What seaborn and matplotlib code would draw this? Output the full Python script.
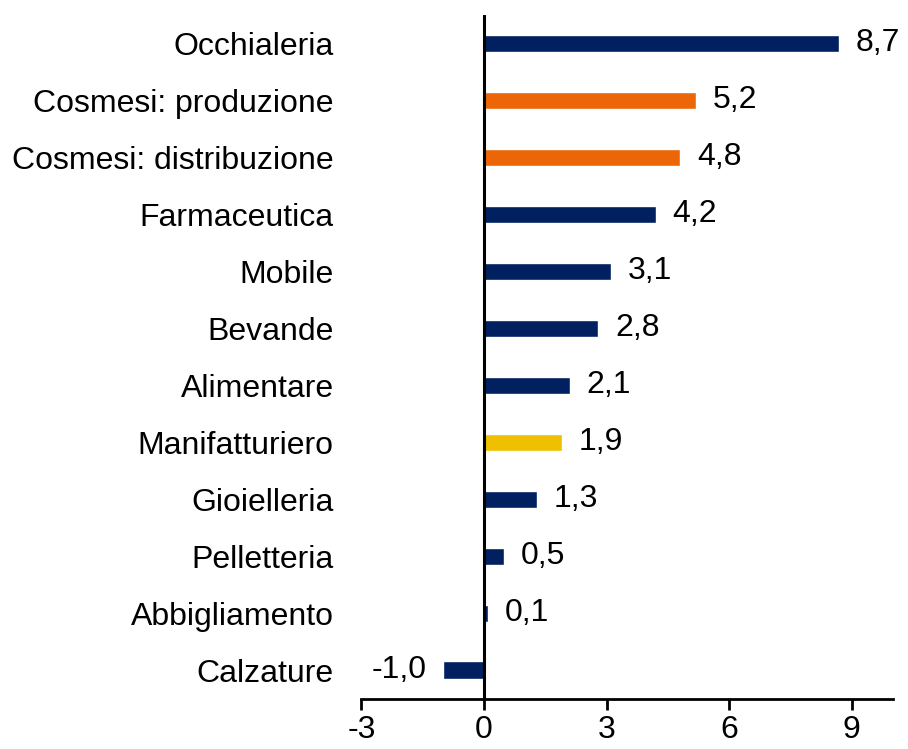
import matplotlib
matplotlib.use("Agg")
import matplotlib.pyplot as plt
import seaborn as sns
import pandas as pd

# ===================== DATA =====================
categories = ["Occhialeria", "Cosmesi: produzione", "Cosmesi: distribuzione",
              "Farmaceutica", "Mobile", "Bevande", "Alimentare", "Manifatturiero",
              "Gioielleria", "Pelletteria", "Abbigliamento", "Calzature"]
values = [8.7, 5.2, 4.8, 4.2, 3.1, 2.8, 2.1, 1.9, 1.3, 0.5, 0.1, -1.0]
groups = ["altro", "cosmesi", "cosmesi", "altro", "altro", "altro", "altro",
          "manifattura", "altro", "altro", "altro", "altro"]
group_colors = {"altro": "#002060", "cosmesi": "#EC6608", "manifattura": "#EEC000"}
xticks = [-3, 0, 3, 6, 9]

df = pd.DataFrame({"settore": categories, "valore": values, "gruppo": groups})
bar_colors = [group_colors[g] for g in groups]

# ===================== PLOT =====================
sns.set_style("white")
plt.rcParams['font.family'] = ['Liberation Sans', 'DejaVu Sans']
plt.rcParams['text.color'] = 'black'
FS = 23

fig = plt.figure(figsize=(9.08, 7.49), dpi=100)
ax = fig.add_axes([0.398, 0.067, 0.585, 0.913])

sns.barplot(data=df, x="valore", y="settore", hue="settore",
            palette=bar_colors, legend=False, width=0.31, saturation=1, ax=ax)

for cont in ax.containers:
    ax.bar_label(cont, labels=[f"{v:.1f}".replace(".", ",") for v in cont.datavalues],
                 padding=12, fontsize=FS, color="black")

ax.axvline(0, color="black", lw=2.2)
ax.set_xlim(-3, 10)
ax.set_ylim(11.5, -0.5)
ax.set_xticks(xticks)
ax.set_xticklabels([str(t) for t in xticks])
ax.set_xlabel("")
ax.set_ylabel("")

for s in ["top", "right", "left"]:
    ax.spines[s].set_visible(False)
ax.spines["bottom"].set_linewidth(2)
ax.spines["bottom"].set_color("black")

ax.tick_params(axis="x", direction="out", length=8, width=2, labelsize=FS, pad=4,
               bottom=True, colors="black")
ax.tick_params(axis="y", length=0, labelsize=FS, pad=20, colors="black")

fig.savefig("out.png", dpi=100)
